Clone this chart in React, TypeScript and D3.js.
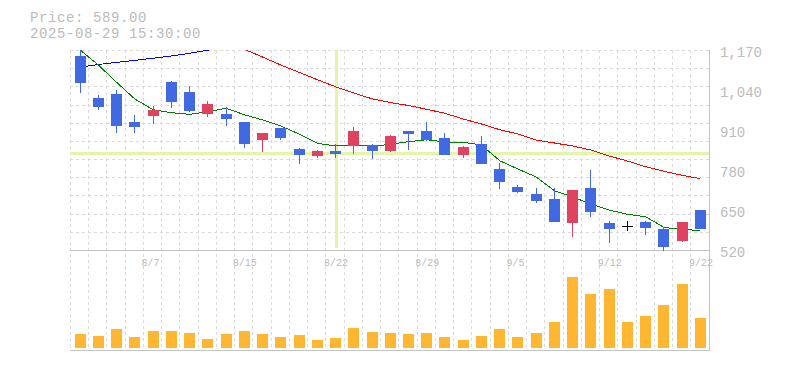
import React from 'react';
import * as d3 from 'd3';

const dates = ['8/1','8/4','8/5','8/6','8/7','8/8','8/12','8/13','8/14','8/15','8/18','8/19','8/20','8/21','8/22','8/25','8/26','8/27','8/28','8/29','9/1','9/2','9/3','9/4','9/5','9/8','9/9','9/10','9/11','9/12','9/16','9/17','9/18','9/19','9/22'];
const opens  = [1145,1008,1021,930,951,1060,1028,957,957,930,873,911,842,821,836,853,856,836,901,901,878,824,859,778,719,696,680,603,716,602,594,605,583,545,644];
const highs  = [1165,1018,1034,953,982,1064,1047,999,979,931,895,912,845,840,859,914,859,889,902,930,895,852,885,797,726,716,716,710,774,609,610,609,590,605,645];
const lows   = [1026,970,895,895,924,977,963,948,918,847,834,873,795,814,814,827,811,834,840,870,823,814,794,713,701,668,606,558,623,538,577,564,512,541,584];
const closes = [1057,980,918,915,969,996,967,989,940,860,894,879,824,836,827,901,837,885,892,873,823,849,795,736,704,675,606,709,639,584,594,587,525,605,584];
const volumes = [140,120,190,110,170,170,150,90,140,170,140,110,130,80,100,200,160,150,140,150,110,80,120,190,110,150,260,710,540,590,260,320,430,640,300];
const maShort: (number | null)[] = [1164.5,1115.7,1059.5,1005.2,970.5,960.7,955.5,964,975,954.2,937,917.5,891.5,861.2,852.5,855.7,851.5,858,866.5,873,865.5,864.5,855.7,804.7,777.7,751.7,707.2,686.7,663.9,644.5,630.5,622.7,588.2,580.5,578.5];
const maMid: (number | null)[] = [null,null,null,null,null,null,null,null,null,1166.7,1141.7,1115.7,1092,1068,1045.2,1024.7,1005.9,993.9,984.1,971.7,958.7,940.2,924,905.5,891.5,872,862.2,852.5,839.5,820,803.7,785.2,770.2,757.2,746.2];
const maLong: (number | null)[] = [1109,1117.4,1124.2,1130.7,1137.8,1145,1153.7,1163.8,1175,null,null,null,null,null,null,null,null,null,null,null,null,null,null,null,null,null,null,null,null,null,null,null,null,null,null];
const yTicks = [520, 650, 780, 910, 1040, 1170];
const xTickDates = ['8/7','8/15','8/22','8/29','9/5','9/12','9/22'];
const headerPrice = 'Price: 589.00';
const headerTime = '2025-08-29 15:30:00';
const crossDate = '8/22';
const crossPrice = 829;

const W = 785, H = 370;
const L = 71, R = 709.5;
const PT = 50, PB = 250, VB = 350;
const MONO = '"Liberation Mono", "DejaVu Sans Mono", monospace';
const UP = '#e0435f', DOWN = '#4169e1';

export default function App() {
  const x = d3.scaleBand<string>().domain(dates).range([L, R]).padding(0);
  const bw = x.bandwidth();
  const cx = (d: string) => (x(d) as number) + bw / 2;
  const y = d3.scaleLinear().domain([520, 1170]).range([248.3, 48.3]);
  const yv = d3.scaleLinear().domain([0, 980]).range([348, 250]);

  const mkLine = (vals: (number | null)[]) =>
    d3.line<number | null>()
      .defined(v => v != null)
      .x((_, i) => cx(dates[i]))
      .y(v => y(v as number))(vals) || '';

  const hGrid = d3.range(11).map(k => Math.round(PT + (k * (PB - PT)) / 11) + 0.5);
  const vGrid = d3.range(dates.length + 1).map(k => Math.round(L + k * bw) - 0.5);

  return (
    <svg width={W} height={H} style={{ position: 'absolute', left: 0, top: 0, background: '#fff' }}>
      <defs>
        <clipPath id="pc"><rect x={L - 1} y={PT} width={R - L + 2} height={PB - PT + 1} /></clipPath>
      </defs>
      <text x={30} y={22} fontFamily={MONO} fontSize={14} letterSpacing={0.6} fill="#bbb">{headerPrice}</text>
      <text x={30} y={38} fontFamily={MONO} fontSize={14} letterSpacing={0.6} fill="#bbb">{headerTime}</text>

      <g stroke="#dadada" strokeDasharray="3,3" shapeRendering="crispEdges">
        {hGrid.map((g, i) => <line key={'h' + i} x1={70} x2={710} y1={g} y2={g} />)}
        {vGrid.map((g, i) => <line key={'v' + i} x1={g} x2={g} y1={PT} y2={VB} />)}
      </g>

      <g fill="#e4f5ab" shapeRendering="crispEdges">
        <rect x={Math.round(cx(crossDate)) - 1} y={PT} width={3} height={PB - PT - 2} />
        <rect x={70} y={Math.round(y(crossPrice)) - 1} width={640} height={3} />
      </g>

      <g stroke="#c3c3c3" shapeRendering="crispEdges">
        <line x1={70} x2={710} y1={PB + 0.5} y2={PB + 0.5} />
        <line x1={70} x2={710} y1={VB + 0.5} y2={VB + 0.5} />
        <line x1={709.5} x2={709.5} y1={PT} y2={VB + 1} />
      </g>

      <g clipPath="url(#pc)" fill="none" strokeWidth={1} shapeRendering="crispEdges">
        <path d={mkLine(maLong)} stroke="#0000ff" />
        <path d={mkLine(maMid)} stroke="#ff0000" />
        <path d={mkLine(maShort)} stroke="#008000" />
      </g>

      <g shapeRendering="crispEdges">
        {dates.map((d, i) => {
          const o = opens[i], c = closes[i];
          const col = c > o ? UP : c < o ? DOWN : '#000';
          const left = Math.round(cx(d) - 5.5);
          const top = Math.round(y(Math.max(o, c)));
          const bot = Math.round(y(Math.min(o, c)));
          return (
            <g key={d}>
              <line x1={left + 5.5} x2={left + 5.5} y1={Math.round(y(highs[i]))} y2={Math.round(y(lows[i]))} stroke={col} />
              <rect x={left} y={top} width={11} height={Math.max(1, bot - top)} fill={col} />
            </g>
          );
        })}
      </g>

      <g shapeRendering="crispEdges" fill="#ffb733">
        {dates.map((d, i) => {
          const top = Math.round(yv(volumes[i]));
          return <rect key={d} x={Math.round(cx(d) - 5.5)} y={top} width={11} height={348 - top} />;
        })}
      </g>

      <g fontFamily={MONO} fontSize={14} fill="#bbb">
        {yTicks.map(t => (
          <text key={t} x={720} y={y(t) + 9}>{d3.format(',')(t)}</text>
        ))}
      </g>
      <g fontFamily={MONO} fontSize={10} fill="#bbb">
        {xTickDates.map(t => (
          <text key={t} x={cx(t) - 11.5} y={266}>{t}</text>
        ))}
      </g>
    </svg>
  );
}
